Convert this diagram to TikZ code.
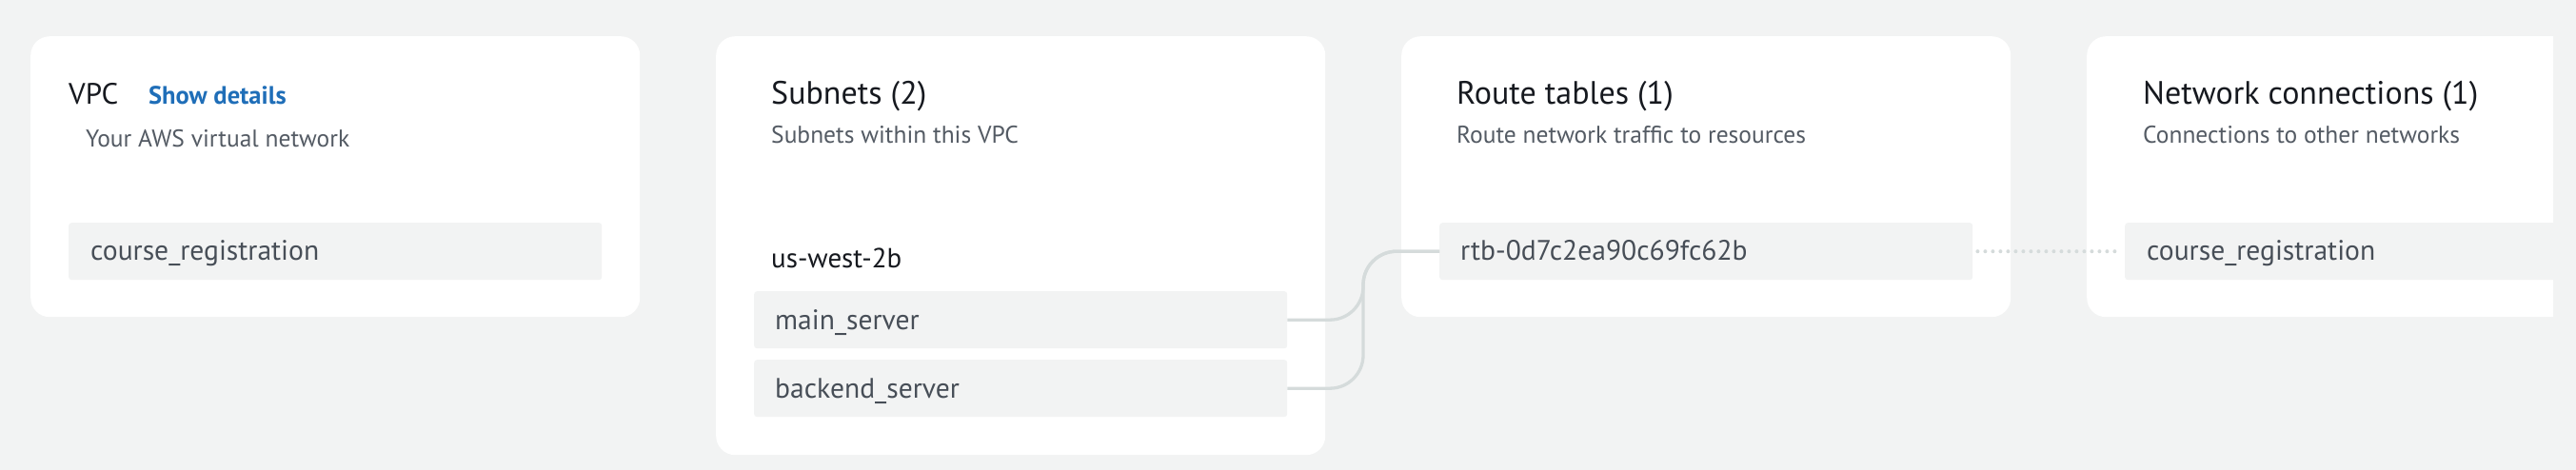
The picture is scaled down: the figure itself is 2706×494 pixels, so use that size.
\documentclass[tikz,border=0pt]{standalone}
\usepackage{fontspec}
\setmainfont{PT Sans}
\usetikzlibrary{calc}
\definecolor{bgc}{HTML}{F2F3F3}
\definecolor{boxc}{HTML}{F2F3F3}
\definecolor{titlec}{HTML}{16191F}
\definecolor{subc}{HTML}{545B64}
\definecolor{itemc}{HTML}{474E57}
\definecolor{linkc}{HTML}{1F6EB8}
\definecolor{connc}{HTML}{D5DBDB}
\tikzset{
  card/.style={fill=white, draw=none, rounded corners=20pt, inner sep=0pt, anchor=north west, minimum width=640pt},
  itembox/.style={fill=boxc, draw=none, rounded corners=3pt, inner sep=0pt, anchor=north west, minimum width=560pt, minimum height=60pt},
  ttl/.style={anchor=base west, inner sep=0pt, text=titlec, font=\fontsize{34}{40}\selectfont},
  sub/.style={anchor=base west, inner sep=0pt, text=subc, font=\fontsize{25.5}{30}\selectfont},
  itm/.style={anchor=base west, inner sep=0pt, text=itemc, font=\fontsize{29.6}{34}\selectfont},
  link/.style={anchor=base west, inner sep=0pt, text=linkc, font=\bfseries\fontsize{26.5}{31}\selectfont},
  conn/.style={draw=connc, line width=3.3pt, rounded corners=35pt},
  dotconn/.style={draw=connc, line width=4pt, line cap=round, dash pattern=on 0pt off 8pt, shorten <=5pt, shorten >=4pt}
}
\begin{document}
\begin{tikzpicture}[x=1pt,y=-1pt]
\fill[bgc] (0,0) rectangle (2706,494);
\useasboundingbox (0,0) rectangle (2706,494);

% VPC card
\node[card, minimum height=295pt] (vpccard) at (32,38) {};
\node[ttl, font=\fontsize{31}{36}\selectfont] (vpctitle) at (72,110) {VPC};
\node[link] (vpclink) at (156,110) {Show details};
\node[sub] (vpcsub) at (90,155) {Your AWS virtual network};
\node[itembox] (vpcbox) at (72,234) {};
\node[itm] (vpcitem) at (95,274) {course\_registration};

% Subnets card
\node[card, minimum height=440pt] (subcard) at (752,38) {};
\node[ttl] (subtitle) at (810,110) {Subnets (2)};
\node[sub] (subsub) at (810,151) {Subnets within this VPC};
\node[ttl, font=\fontsize{29}{34}\selectfont] (zone) at (810,282) {us-west-2b};
\node[itembox] (mainbox) at (792,306) {};
\node[itm] (mainitem) at (814,346) {main\_server};
\node[itembox] (backbox) at (792,378) {};
\node[itm] (backitem) at (814,418) {backend\_server};

% Route tables card
\node[card, minimum height=295pt] (rtcard) at (1472,38) {};
\node[ttl] (rttitle) at (1530,110) {Route tables (1)};
\node[sub] (rtsub) at (1530,151) {Route network traffic to resources};
\node[itembox] (rtbbox) at (1512,234) {};
\node[itm] (rtbitem) at (1534,274) {rtb-0d7c2ea90c69fc62b};

% Network connections card (clipped at right)
\begin{scope}
\clip (0,0) rectangle (2682,494);
\node[card, minimum height=295pt] (nccard) at (2192,38) {};
\node[itembox] (ncbox) at (2232,234) {};
\end{scope}
\node[ttl] (nctitle) at (2251,110) {Network connections (1)};
\node[sub] (ncsub) at (2251,151) {Connections to other networks};
\node[itm] (ncitem) at (2255,274) {course\_registration};

% connectors
\coordinate (bend) at (1432,0);
\draw[conn] (mainbox.east) -| (bend |- rtbbox.west) -- (rtbbox.west);
\draw[conn] (backbox.east) -| (bend |- rtbbox.west) -- (rtbbox.west);
\draw[dotconn] (rtbbox.east) -- (ncbox.west);
\end{tikzpicture}
\end{document}
